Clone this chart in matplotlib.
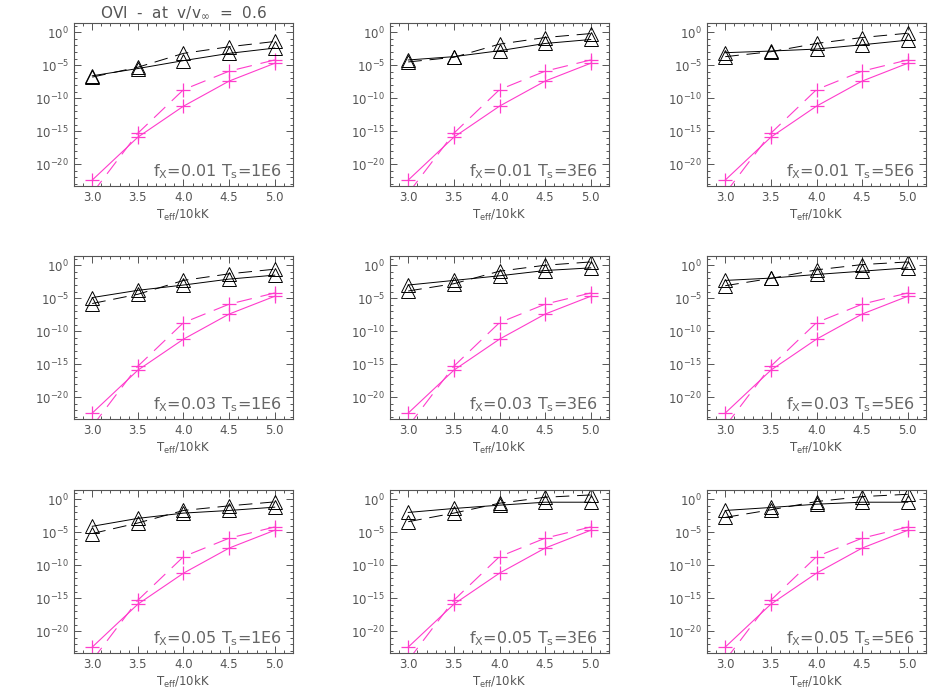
import numpy as np
import matplotlib
matplotlib.use("Agg")
from matplotlib import pyplot as plt
from matplotlib.ticker import FixedLocator, LogFormatterSciNotation, NullFormatter, MultipleLocator

# x axis: effective temperature / 10kK
teff = [3.0, 3.5, 4.0, 4.5, 5.0]

# panel labels
fx_values = ["0.01", "0.03", "0.05"]      # rows
ts_values = ["1E6", "3E6", "5E6"]         # columns

# pink curves (log10), same in every panel
pink_solid = [-22.4, -15.9, -11.2, -7.4, -4.7]
pink_dash = [-24.4, -15.3, -8.7, -5.9, -4.2]

# black curves (log10), one per panel [row][col]
black_solid = [
    [[-6.6, -5.5, -4.3, -3.2, -2.4], [-4.2, -3.7, -2.8, -1.7, -1.1], [-3.1, -2.85, -2.55, -1.9, -1.2]],
    [[-4.9, -3.8, -3.0, -2.1, -1.5], [-3.0, -2.3, -1.6, -0.8, -0.4], [-2.3, -1.95, -1.4, -0.9, -0.4]],
    [[-4.1, -2.9, -2.1, -1.7, -1.2], [-2.0, -1.4, -0.9, -0.45, -0.45], [-1.7, -1.25, -0.75, -0.45, -0.45]],
]
black_dash = [
    [[-6.8, -5.3, -3.2, -2.2, -1.4], [-4.5, -3.8, -1.8, -0.8, -0.2], [-3.7, -2.95, -1.7, -0.8, -0.15]],
    [[-5.8, -4.4, -2.3, -1.3, -0.6], [-3.9, -2.8, -0.9, 0.0, 0.5], [-3.1, -2.0, -0.7, 0.1, 0.5]],
    [[-5.2, -3.6, -1.7, -1.0, -0.4], [-3.4, -2.1, -0.6, 0.3, 0.65], [-2.75, -1.6, -0.35, 0.4, 0.75]],
]

pink = "#ff3ccc"
grey = "#555555"
dashes = (0, (14, 8))

fig = plt.figure(figsize=(9.5, 7), dpi=100)
W, H = 950.0, 700.0
lefts = [74, 390, 707]
bottoms = [186, 419, 653]
aw, ah = 219, 163

x = np.array(teff)
for r in range(3):
    for c in range(3):
        ax = fig.add_axes([lefts[c] / W, (H - bottoms[r]) / H, aw / W, ah / H])
        ax.set_yscale("log")
        # pink
        ax.plot(x, 10.0 ** np.array(pink_solid), color=pink, lw=0.8, marker="+", ms=10, mew=0.9)
        ax.plot(x, 10.0 ** np.array(pink_dash), color=pink, lw=0.8, ls=dashes, marker="+", ms=10, mew=0.9)
        # black
        ax.plot(x, 10.0 ** np.array(black_solid[r][c]), color="black", lw=0.7, marker="^", ms=9.5,
                mfc="none", mec="black", mew=0.7)
        ax.plot(x, 10.0 ** np.array(black_dash[r][c]), color="black", lw=0.7, ls=dashes, marker="^", ms=9.5,
                mfc="none", mec="black", mew=0.7)

        ax.set_xlim(2.8, 5.2)
        ax.set_ylim(10 ** -23.3, 10 ** 1.4)
        ax.xaxis.set_major_locator(MultipleLocator(0.5))
        ax.xaxis.set_minor_locator(MultipleLocator(0.1))
        ax.xaxis.set_major_formatter(plt.FormatStrFormatter("%.1f"))
        ax.yaxis.set_major_locator(FixedLocator([1e-20, 1e-15, 1e-10, 1e-5, 1e0]))
        ax.yaxis.set_minor_locator(FixedLocator(10.0 ** np.arange(-23, 2)))
        ax.yaxis.set_major_formatter(LogFormatterSciNotation())
        ax.yaxis.set_minor_formatter(NullFormatter())
        ax.tick_params(which="both", direction="in", top=True, right=True, colors=grey,
                       labelsize=8.5, labelcolor=grey, width=0.7)
        ax.tick_params(which="major", length=5)
        ax.tick_params(which="minor", length=2.5)
        for s in ax.spines.values():
            s.set_color(grey)
            s.set_linewidth(0.8)
        ax.set_xlabel(r"T$_{\rm eff}$/10kK", fontsize=8.5, color=grey, labelpad=2)
        ax.text(0.95, 0.085, r"f$_{\rm X}$=" + fx_values[r] + r" T$_{\rm s}$=" + ts_values[c],
                transform=ax.transAxes, ha="right", va="center", fontsize=11.5, color="#666666")
        if r == 0 and c == 0:
            ax.set_title(r"OVI  -  at  v/v$_\infty$  =  0.6", fontsize=11, color=grey, pad=4)

fig.savefig("out.png", dpi=100)
